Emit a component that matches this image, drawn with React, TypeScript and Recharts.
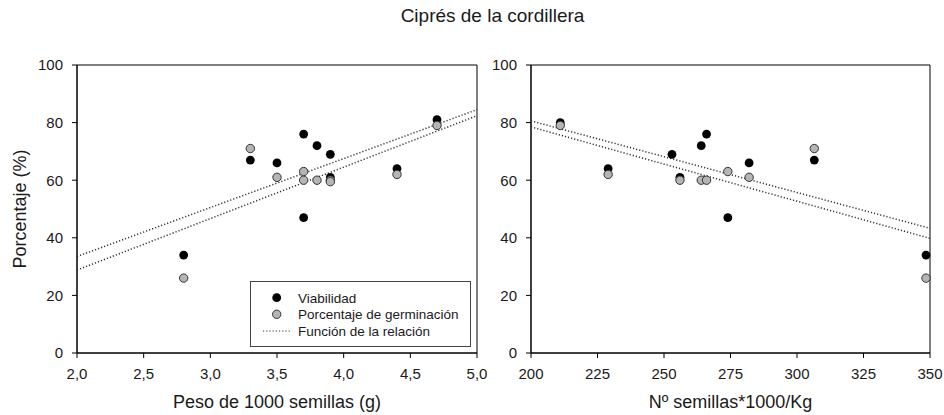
import React from "react";
import {
  ScatterChart,
  Scatter,
  XAxis,
  YAxis,
  ReferenceArea,
  Legend,
} from "recharts";

// Panel izquierdo: peso de 1000 semillas (g)
const pesoX = [2.8, 3.3, 3.5, 3.7, 3.7, 3.8, 3.9, 3.9, 4.4, 4.7];
const pesoViab = [34, 67, 66, 76, 47, 72, 69, 61, 64, 81];
const pesoGerm = [26, 71, 61, 60, 63, 60, 60, 59.5, 62, 79];
const pesoFitX = [2.0, 5.0];
const pesoFitUpper = [33.5, 84.5];
const pesoFitLower = [28.8, 82.4];

// Panel derecho: nº semillas*1000/Kg
const semViabX = [211, 229, 253, 256, 264, 266, 274, 282, 306.5, 348.5];
const semViab = [80, 64, 69, 61, 72, 76, 47, 66, 67, 34];
const semGermX = [211, 229, 256, 264, 266, 274, 282, 306.5, 348.5];
const semGerm = [79, 62, 60, 60, 60, 63, 61, 71, 26];
const semFitX = [200, 350];
const semFitUpper = [80.6, 43.3];
const semFitLower = [78.5, 39.8];

const pesoTicks = [2.0, 2.5, 3.0, 3.5, 4.0, 4.5, 5.0];
const semTicks = [200, 225, 250, 275, 300, 325, 350];
const pctTicks = [0, 20, 40, 60, 80, 100];

const FONT = "'Liberation Sans', Arial, sans-serif";
const GRAY = "#b5b5b5";

const pts = (xs: number[], ys: number[]) => xs.map((x, i) => ({ x, y: ys[i] }));

const BlackDot = (p: any) => <circle cx={p.cx} cy={p.cy} r={4.4} fill="#000" />;
const GrayDot = (p: any) => (
  <circle cx={p.cx} cy={p.cy} r={4.2} fill={GRAY} stroke="#333" strokeWidth={1} />
);
const NoDot = () => <g />;

const dotted = { stroke: "#333", strokeWidth: 1.5, strokeDasharray: "1.2 2" };
const tickStyle = { fill: "#1a1a1a", fontSize: 15, fontFamily: FONT };

const LegendBox = () => (
  <svg width={221} height={66} style={{ display: "block" }}>
    <rect x={0.5} y={0.5} width={220} height={65} fill="#fff" stroke="#444" />
    <circle cx={26.7} cy={16.7} r={4.4} fill="#000" />
    <circle cx={26.7} cy={33.3} r={4.2} fill={GRAY} stroke="#333" />
    <line x1={13} y1={50} x2={40} y2={50} {...dotted} strokeWidth={1.2} />
    <g fontFamily={FONT} fontSize={13.5} fill="#1a1a1a">
      <text x={48} y={21.5}>Viabilidad</text>
      <text x={48} y={38}>Porcentaje de germinación</text>
      <text x={48} y={54.8}>Función de la relación</text>
    </g>
  </svg>
);

function Panel(props: {
  width: number;
  yWidth: number;
  right: number;
  domain: [number, number];
  ticks: number[];
  fmt: (v: number) => string;
  xLabel: string;
  showYLabel: boolean;
  viab: { x: number; y: number }[];
  germ: { x: number; y: number }[];
  upper: { x: number; y: number }[];
  lower: { x: number; y: number }[];
  legend: boolean;
}) {
  const [x0, x1] = props.domain;
  return (
    <ScatterChart
      width={props.width}
      height={415}
      margin={{ top: 65, right: props.right, bottom: 0, left: 0 }}
    >
      <XAxis
        type="number"
        dataKey="x"
        domain={props.domain}
        ticks={props.ticks}
        tickFormatter={props.fmt}
        tick={tickStyle}
        tickSize={5}
        tickMargin={10}
        height={62}
        stroke="#000"
        label={(lp: any) => {
          const vb = lp.viewBox;
          return (
            <text
              x={vb.x + vb.width / 2}
              y={vb.y + 55}
              textAnchor="middle"
              fontFamily={FONT}
              fontSize={18}
              fill="#1a1a1a"
            >
              {props.xLabel}
            </text>
          );
        }}
      />
      <YAxis
        type="number"
        dataKey="y"
        domain={[0, 100]}
        ticks={pctTicks}
        tick={tickStyle}
        tickSize={5}
        tickMargin={9}
        width={props.yWidth}
        stroke="#000"
        label={
          props.showYLabel
            ? () => (
                <text
                  x={26}
                  y={209}
                  transform="rotate(-90, 26, 209)"
                  textAnchor="middle"
                  fontFamily={FONT}
                  fontSize={18}
                  fill="#1a1a1a"
                >
                  Porcentaje (%)
                </text>
              )
            : undefined
        }
      />
      <ReferenceArea x1={x0} x2={x1} y1={0} y2={100} fill="none" stroke="#000" strokeWidth={1} />
      <Scatter data={props.upper} line={dotted} shape={NoDot} isAnimationActive={false} />
      <Scatter data={props.lower} line={dotted} shape={NoDot} isAnimationActive={false} />
      <Scatter data={props.viab} shape={BlackDot} isAnimationActive={false} />
      <Scatter data={props.germ} shape={GrayDot} isAnimationActive={false} />
      {props.legend && (
        <Legend
          layout="vertical"
          align="center"
          verticalAlign="middle"
          wrapperStyle={{ left: 250, top: 281, width: 221, height: 66 }}
          content={() => <LegendBox />}
        />
      )}
    </ScatterChart>
  );
}

export default function App() {
  return (
    <div style={{ position: "relative", width: 944, height: 415, background: "#fff" }}>
      <style>{`body{margin:0}`}</style>
      <div
        style={{
          position: "absolute",
          left: 392.5,
          width: 200,
          top: 5.5,
          textAlign: "center",
          fontFamily: FONT,
          fontSize: 19,
          lineHeight: "19px",
          color: "#1a1a1a",
          whiteSpace: "nowrap",
        }}
      >
        Ciprés de la cordillera
      </div>
      <div style={{ position: "absolute", left: 0, top: 0 }}>
        <Panel
          width={490}
          yWidth={77}
          right={13}
          domain={[2, 5]}
          ticks={pesoTicks}
          fmt={(v) => v.toFixed(1).replace(".", ",")}
          xLabel="Peso de 1000 semillas (g)"
          showYLabel={true}
          viab={pts(pesoX, pesoViab)}
          germ={pts(pesoX, pesoGerm)}
          upper={pts(pesoFitX, pesoFitUpper)}
          lower={pts(pesoFitX, pesoFitLower)}
          legend={true}
        />
      </div>
      <div style={{ position: "absolute", left: 490, top: 0 }}>
        <Panel
          width={454}
          yWidth={41}
          right={14}
          domain={[200, 350]}
          ticks={semTicks}
          fmt={(v) => String(v)}
          xLabel="Nº semillas*1000/Kg"
          showYLabel={false}
          viab={pts(semViabX, semViab)}
          germ={pts(semGermX, semGerm)}
          upper={pts(semFitX, semFitUpper)}
          lower={pts(semFitX, semFitLower)}
          legend={false}
        />
      </div>
    </div>
  );
}
